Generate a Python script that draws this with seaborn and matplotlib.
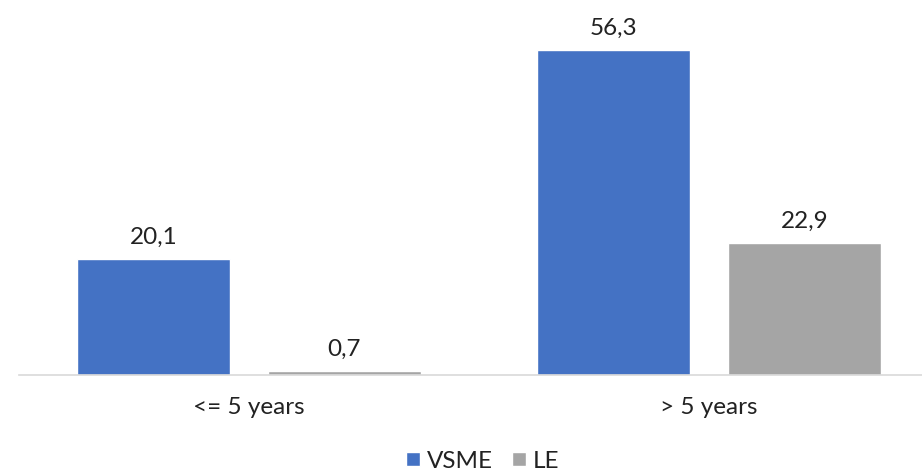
import matplotlib
matplotlib.use("Agg")
import matplotlib.pyplot as plt
import seaborn as sns
import pandas as pd

categories = ["<= 5 years", "> 5 years"]
series = ["VSME", "LE"]
vsme = [20.1, 56.3]
le = [0.7, 22.9]

df = pd.DataFrame({
    "cat": categories * 2,
    "series": ["VSME"] * 2 + ["LE"] * 2,
    "value": vsme + le,
})

sns.set_theme(style="white")
plt.rcParams["font.family"] = ["Lato", "DejaVu Sans"]

FS = 17.5
fig = plt.figure(figsize=(9.22, 4.70), dpi=100)
ax = fig.add_axes([19/922, 95/470, (922-19)/922, (375-29)/470])
palette = {"VSME": "#4472C4", "LE": "#A5A5A5"}
sns.barplot(data=df, x="cat", y="value", hue="series", hue_order=series,
            order=categories, palette=palette, width=0.83, gap=0.2,
            saturation=1, ax=ax, legend=True)

ax.set_ylim(0, 60)
ax.set_xlim(-0.5, 1.5 - 17/460)
for c in ax.containers:
    ax.bar_label(c, labels=[f"{v:.1f}".replace(".", ",") for v in c.datavalues],
                 padding=8, fontsize=FS, color="#222222")

for s in ["top", "right", "left"]:
    ax.spines[s].set_visible(False)
ax.spines["bottom"].set_color("#D9D9D9")
ax.spines["bottom"].set_linewidth(1.2)
ax.set_yticks([])
ax.set_xlabel("")
ax.set_ylabel("")
ax.tick_params(axis="x", length=0, labelsize=FS, pad=16, labelcolor="#222222")

leg = ax.legend(loc="center", ncol=2, frameon=False, fontsize=FS,
                handlelength=0.55, handleheight=0.55, handletextpad=0.3,
                columnspacing=0.8, borderpad=0)
leg.set_bbox_to_anchor((483/922, 1 - 461/470), transform=fig.transFigure)
for t in leg.get_texts():
    t.set_color("#222222")

fig.savefig("out.png", dpi=100)
